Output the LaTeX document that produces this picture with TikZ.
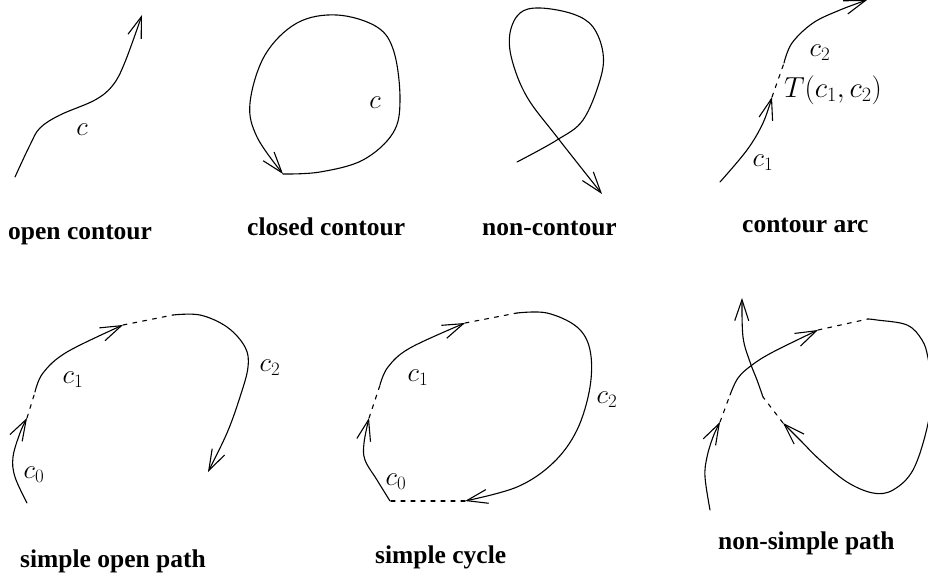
\RequirePackage{fix-cm}
\documentclass[tikz,border=0pt]{standalone}
\usepackage[no-math]{fontspec}
\newfontfamily\capfont{Liberation Serif}
\usetikzlibrary{arrows.meta}
\tikzset{
  curve/.style={line width=1.1pt, line cap=round, line join=round},
  arr/.style={curve, -{Straight Barb[length=21pt,width=14pt,line width=1.1pt]}},
  gap/.style={curve, dash pattern=on 4pt off 6pt},
  lab/.style={font=\fontsize{27}{32}\selectfont, inner sep=0pt},
  biglab/.style={font=\fontsize{29}{34}\selectfont, inner sep=0pt},
  captxt/.style={font=\capfont\bfseries\fontsize{25.5}{30}\selectfont, anchor=base west, inner sep=0pt}
}
\begin{document}
\begin{tikzpicture}[x=1pt,y=-1pt]
\useasboundingbox (0,0) rectangle (928,577);

% ---------- open contour
\draw[arr] plot[smooth,tension=0.6] coordinates {(15,177) (30,145) (40,128) (60,115) (95,100) (113,85) (125,62) (142,15)};
\node[lab] (lc) at (82,130) {$c$};
\node[captxt] (t1) at (8,240) {open contour};

% ---------- closed contour
\draw[arr] plot[smooth,tension=0.6] coordinates {(283,174) (320,172) (363,160) (393,133) (400,100) (394,52) (377,27) (337,15) (297,23) (265,55) (250,103) (257,137) (283,174)};
\node[lab] (lcc) at (375,103) {$c$};
\node[captxt] (t2) at (247,236) {closed contour};

% ---------- non-contour
\draw[arr] plot[smooth,tension=0.6] coordinates {(517,162) (557,140) (583,120) (600,80) (603,53) (593,27) (573,14) (540,8) (520,13) (510,33) (512,60) (527,97) (557,137) (602,194)};
\node[captxt] (t3) at (482,236) {non-contour};

% ---------- contour arc
\coordinate (a1) at (772,97);
\coordinate (a2) at (784,63);
\draw[arr] plot[smooth,tension=0.6] coordinates {(720,182) (747,150) (763,123) (a1)};
\draw[gap] (a1) -- (a2);
\draw[arr] plot[smooth,tension=0.6] coordinates {(a2) (792,43) (813,23) (840,10) (867,0)};
\node[lab] (lac2) at (820,53) {$c_2$};
\node[biglab] (lat) at (833,90) {$T(c_1,c_2)$};
\node[lab] (lac1) at (763,163) {$c_1$};
\node[captxt] (t4) at (742,233) {contour arc};

% ---------- simple open path
\coordinate (p1) at (27,418);
\coordinate (p2) at (35,392);
\coordinate (p3) at (123,325);
\coordinate (p4) at (173,315);
\draw[arr] plot[smooth,tension=0.6] coordinates {(27,503) (15,477) (13,457) (20,433) (p1)};
\draw[gap] (p1) -- (p2);
\draw[arr] plot[smooth,tension=0.6] coordinates {(p2) (43,373) (67,352) (p3)};
\draw[gap] (p3) -- (p4);
\draw[arr] plot[smooth,tension=0.6] coordinates {(p4) (200,315) (227,327) (245,347) (248,367) (240,397) (227,433) (208,472)};
\node[lab] (lp1) at (73,380) {$c_1$};
\node[lab] (lp2) at (270,368) {$c_2$};
\node[lab] (lp0) at (34,475) {$c_0$};
\node[captxt] (t5) at (20,567) {simple open path};

% ---------- simple cycle
\coordinate (q0) at (390,501);
\coordinate (q1) at (369,418);
\coordinate (q2) at (380,385);
\coordinate (q3) at (465,323);
\coordinate (q4) at (517,313);
\coordinate (q5) at (465,501);
\draw[arr] plot[smooth,tension=0.6] coordinates {(q0) (377,480) (365,460) (364,443) (q1)};
\draw[gap] (q1) -- (q2);
\draw[arr] plot[smooth,tension=0.6] coordinates {(q2) (388,367) (410,348) (q3)};
\draw[gap] (q3) -- (q4);
\draw[arr] plot[smooth,tension=0.6] coordinates {(q4) (547,313) (577,327) (590,350) (590,387) (577,430) (553,463) (517,487) (q5)};
\draw[gap] (q5) -- (q0);
\node[lab] (lq1) at (418,378) {$c_1$};
\node[lab] (lq2) at (607,400) {$c_2$};
\node[lab] (lq0) at (396,482) {$c_0$};
\node[captxt] (t6) at (375,563) {simple cycle};

% ---------- non-simple path
\coordinate (r1) at (720,422);
\coordinate (r2) at (730,395);
\coordinate (r3) at (818,330);
\coordinate (r4) at (868,319);
\coordinate (r5) at (783,423);
\coordinate (r6) at (763,397);
\draw[arr] plot[smooth,tension=0.6] coordinates {(710,510) (705,477) (707,457) (713,437) (r1)};
\draw[gap] (r1) -- (r2);
\draw[arr] plot[smooth,tension=0.6] coordinates {(r2) (738,378) (752,365) (773,352) (r3)};
\draw[gap] (r3) -- (r4);
\draw[arr] plot[smooth,tension=0.6] coordinates {(r4) (877,320) (907,325) (922,340) (928,358) (932,390) (927,428) (913,470) (893,490) (873,493) (847,482) (820,460) (800,440) (r5)};
\draw[gap] (r5) -- (r6);
\draw[arr] plot[smooth,tension=0.6] coordinates {(r6) (757,380) (750,362) (743,337) (742,298)};
\node[captxt] (t7) at (718,549) {non-simple path};
\end{tikzpicture}
\end{document}
